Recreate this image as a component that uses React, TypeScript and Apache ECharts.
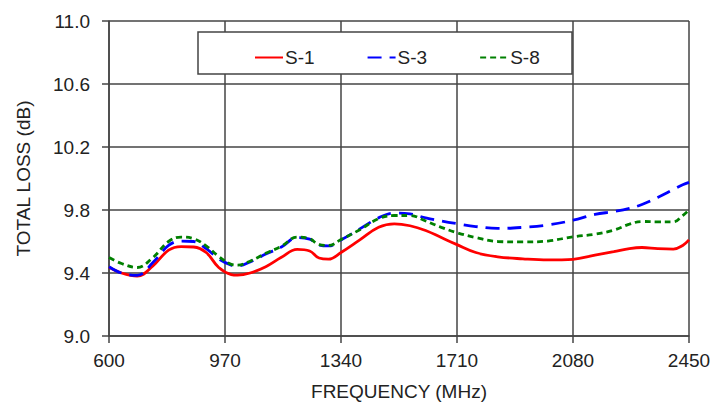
import React, { useEffect, useRef } from "react";
import * as echarts from "echarts";

const freq = [600, 640, 690, 740, 790, 830, 870, 910, 950, 990, 1010, 1050, 1100, 1150, 1200, 1240, 1270, 1300, 1340, 1400, 1460, 1510, 1560, 1610, 1660, 1710, 1770, 1840, 1920, 2000, 2080, 2150, 2210, 2260, 2300, 2350, 2400, 2430, 2450];

const s1 = [9.437, 9.40, 9.38, 9.445, 9.545, 9.568, 9.565, 9.53, 9.435, 9.39, 9.386, 9.40, 9.44, 9.50, 9.55, 9.54, 9.495, 9.488, 9.53, 9.61, 9.69, 9.712, 9.70, 9.67, 9.625, 9.58, 9.53, 9.503, 9.49, 9.483, 9.487, 9.513, 9.535, 9.555, 9.562, 9.555, 9.552, 9.575, 9.61];

const s3 = [9.44, 9.40, 9.385, 9.466, 9.575, 9.603, 9.60, 9.555, 9.49, 9.45, 9.445, 9.47, 9.52, 9.565, 9.625, 9.615, 9.578, 9.572, 9.61, 9.68, 9.75, 9.78, 9.775, 9.75, 9.73, 9.713, 9.695, 9.683, 9.69, 9.705, 9.735, 9.772, 9.79, 9.81, 9.835, 9.88, 9.93, 9.96, 9.975];

const s8 = [9.498, 9.46, 9.435, 9.498, 9.60, 9.628, 9.618, 9.572, 9.505, 9.455, 9.45, 9.475, 9.525, 9.57, 9.628, 9.618, 9.58, 9.575, 9.612, 9.675, 9.745, 9.765, 9.765, 9.73, 9.69, 9.656, 9.625, 9.60, 9.597, 9.603, 9.63, 9.646, 9.672, 9.71, 9.727, 9.725, 9.725, 9.765, 9.80];

const seriesNames = ["S-1", "S-3", "S-8"];
const xTicks = [600, 970, 1340, 1710, 2080, 2450];
const yTicks = [9.0, 9.4, 9.8, 10.2, 10.6, 11.0];

export default function App() {
  const ref = useRef<HTMLDivElement>(null);
  useEffect(() => {
    if (!ref.current) return;
    const chart = echarts.init(ref.current, undefined, { renderer: "svg" });
    const font = "'Liberation Sans', Arial, sans-serif";
    const fs = 19;
    const txt = "#222";
    const gridColor = "#444";
    const toPairs = (arr: number[]) => freq.map((f, i) => [f, arr[i]]);
    chart.setOption({
      animation: false,
      textStyle: { fontFamily: font },
      grid: { left: 109, right: 27, top: 21, bottom: 69 },
      graphic: [
        {
          type: "rect",
          z: 3,
          shape: { x: 198, y: 32, width: 374, height: 42 },
          style: { fill: "#fff", stroke: gridColor, lineWidth: 1.5 },
        },
      ],
      legend: {
        left: 249,
        top: 43,
        z: 5,
        itemWidth: 28,
        itemHeight: 14,
        itemGap: 52,
        itemStyle: { opacity: 0 },
        textStyle: { fontSize: fs, color: txt, fontFamily: font, padding: [0, 0, 0, -3] },
        data: seriesNames,
      },
      xAxis: {
        type: "value",
        min: xTicks[0],
        max: xTicks[xTicks.length - 1],
        interval: 370,
        name: "FREQUENCY (MHz)",
        nameLocation: "middle",
        nameGap: 46,
        nameTextStyle: { fontSize: fs, color: txt, fontFamily: font },
        axisLine: { show: true, lineStyle: { color: gridColor, width: 1.5 } },
        axisTick: { show: true, inside: false, length: 7, lineStyle: { color: gridColor, width: 1.5 } },
        axisLabel: { fontSize: fs, color: txt, margin: 15, fontFamily: font, formatter: (v: number) => String(v) },
        splitLine: { show: true, lineStyle: { color: gridColor, width: 1.5 } },
      },
      yAxis: {
        type: "value",
        min: yTicks[0],
        max: yTicks[yTicks.length - 1],
        interval: 0.4,
        name: "TOTAL LOSS (dB)",
        nameLocation: "middle",
        nameGap: 76,
        nameTextStyle: { fontSize: fs, color: txt, fontFamily: font },
        axisLine: { show: true, lineStyle: { color: gridColor, width: 1.5 } },
        axisTick: { show: true, inside: false, length: 7, lineStyle: { color: gridColor, width: 1.5 } },
        axisLabel: {
          fontSize: fs,
          color: txt,
          margin: 19,
          fontFamily: font,
          formatter: (v: number) => v.toFixed(1),
        },
        splitLine: { show: true, lineStyle: { color: gridColor, width: 1.5 } },
      },
      series: [
        {
          name: seriesNames[0],
          type: "line",
          data: toPairs(s1),
          smooth: 0.4,
          symbol: "none",
          lineStyle: { color: "#ff0000", width: 2.8, type: "solid" },
          itemStyle: { color: "#ff0000" },
        },
        {
          name: seriesNames[1],
          type: "line",
          data: toPairs(s3),
          smooth: 0.4,
          symbol: "none",
          lineStyle: { color: "#0000ff", width: 2.8, type: [14, 8] },
          itemStyle: { color: "#0000ff" },
        },
        {
          name: seriesNames[2],
          type: "line",
          data: toPairs(s8),
          smooth: 0.4,
          symbol: "none",
          lineStyle: { color: "#008000", width: 2.8, type: [6, 4] },
          itemStyle: { color: "#008000" },
        },
      ],
    });
    return () => chart.dispose();
  }, []);
  return <div ref={ref} style={{ width: 716, height: 406, position: "absolute", left: 0, top: 0 }} />;
}
